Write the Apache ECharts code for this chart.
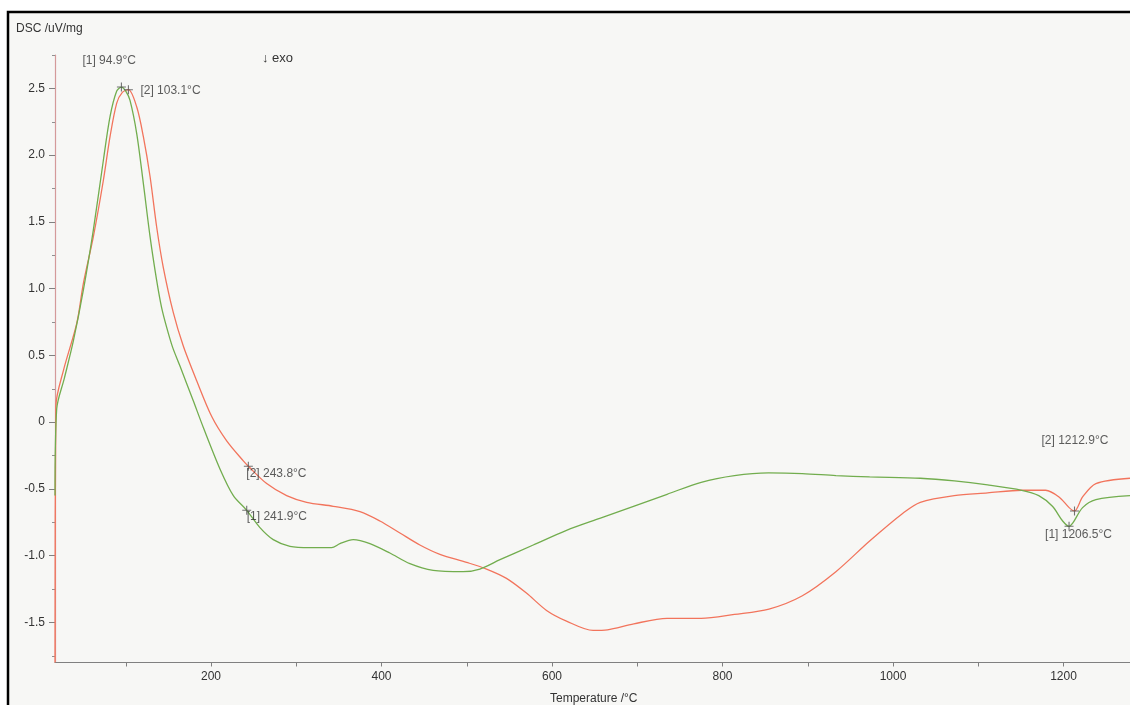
<!DOCTYPE html>
<html>
<head>
<meta charset="utf-8">
<script src="https://cdn.jsdelivr.net/npm/echarts@6/dist/echarts.min.js"></script>
<style>
  html, body { margin: 0; padding: 0; background: #ffffff; }
  #chart { width: 1130px; height: 705px; }
</style>
</head>
<body>
<div id="chart"></div>
<script>
// DSC curves: temperature (°C) and signal (uV/mg) for run [1] (green) and run [2] (red)
const run1Temp = [17, 19, 28, 38.6, 50.3, 62, 73.7, 81.6, 89.4, 94.9, 100, 105, 112.9, 120.6, 128.5, 136.3, 142, 148, 155, 163.6, 179.2, 191, 210.5, 226.2, 241.9, 257.4, 273, 292.6, 316, 341.5, 351.2, 366.8, 386.4, 409.8, 433.3, 460.6, 495.8, 515.4, 539, 578, 617, 656, 695.6, 735, 775, 814, 854, 893.7, 933, 972.6, 1032, 1072, 1111, 1151, 1171, 1187, 1199, 1206.5, 1211, 1222.4, 1238, 1278];
const run1Val = [-0.55, 0.1, 0.33, 0.61, 0.99, 1.44, 1.96, 2.29, 2.48, 2.51, 2.48, 2.41, 2.16, 1.79, 1.39, 1.06, 0.86, 0.71, 0.56, 0.42, 0.16, -0.04, -0.35, -0.55, -0.66, -0.79, -0.88, -0.93, -0.94, -0.94, -0.91, -0.88, -0.91, -0.98, -1.06, -1.11, -1.12, -1.1, -1.03, -0.92, -0.81, -0.72, -0.63, -0.54, -0.45, -0.4, -0.38, -0.385, -0.4, -0.41, -0.42, -0.44, -0.47, -0.51, -0.55, -0.63, -0.74, -0.78, -0.755, -0.64, -0.58, -0.55];

const run2Temp = [17, 18, 27, 42.5, 50.3, 62, 73.7, 81.6, 89.4, 96, 103.1, 112.9, 120.6, 128.5, 136.3, 144, 155.8, 167.5, 183.2, 201, 218.4, 237.9, 243.8, 265.3, 288.7, 312.2, 343.4, 374.7, 398.1, 421.6, 445, 468.5, 499.8, 523.2, 546.6, 570, 593.6, 617, 648.2, 665, 696, 735, 775, 814, 854.5, 893.7, 933, 972.6, 1012, 1032, 1071.8, 1111, 1151, 1179, 1194.7, 1206.6, 1212.9, 1222.4, 1238, 1278];
const run2Val = [-1.8, 0.12, 0.39, 0.74, 1.04, 1.39, 1.81, 2.14, 2.39, 2.47, 2.49, 2.36, 2.14, 1.84, 1.46, 1.16, 0.82, 0.57, 0.31, 0.04, -0.14, -0.29, -0.33, -0.46, -0.55, -0.6, -0.63, -0.67, -0.74, -0.83, -0.92, -0.99, -1.05, -1.1, -1.17, -1.28, -1.41, -1.49, -1.56, -1.555, -1.51, -1.47, -1.47, -1.44, -1.4, -1.3, -1.12, -0.89, -0.68, -0.6, -0.55, -0.53, -0.51, -0.51, -0.56, -0.64, -0.665, -0.56, -0.46, -0.42];

// Evaluated peak / onset points
const mark1Temp = [94.9, 241.9, 1206.5];
const mark1Val = [2.51, -0.66, -0.78];
const mark2Temp = [103.1, 243.8, 1212.9];
const mark2Val = [2.49, -0.33, -0.665];

// Axis ticks and labels
const xLabelValues = [200, 400, 600, 800, 1000, 1200];
const xTickValues = [100, 200, 300, 400, 500, 600, 700, 800, 900, 1000, 1100, 1200];
const yLabelValues = [-1.5, -1.0, -0.5, 0, 0.5, 1.0, 1.5, 2.0, 2.5];
const yMinorValues = [-1.75, -1.25, -0.75, -0.25, 0.25, 0.75, 1.25, 1.75, 2.25, 2.75];

const pairs = (xs, ys) => xs.map((x, i) => [x, ys[i]]);

const textColor = '#333333';
const fontFamily = '"Liberation Sans", Arial, sans-serif';
const plusSymbol = 'path://M4.4,0h1.2v4.4h4.4v1.2h-4.4v4.4h-1.2v-4.4h-4.4v-1.2h4.4z';

// label offsets for each evaluated point (pixels from the marker)
const mark1Offsets = [[-39, -26], [0, 6], [-24, 8]];
const mark2Offsets = [[12, 1], [-2, 7], [-33, -70]];

function markerData(temps, vals, run, offsets) {
  return temps.map((t, i) => ({
    value: [t, vals[i]],
    label: {
      show: true,
      position: 'inside',
      align: 'left',
      verticalAlign: 'middle',
      offset: offsets[i],
      formatter: '[' + run + '] ' + t.toFixed(1) + '°C',
      color: textColor,
      fontSize: 12,
      fontFamily: fontFamily
    }
  }));
}

const chart = echarts.init(document.getElementById('chart'), null, { renderer: 'canvas' });

const option = {
  backgroundColor: '#ffffff',
  animation: false,
  grid: {
    left: 55, right: 0, top: 55, bottom: 42.5,
    containLabel: false,
    outerBoundsMode: 'none'
  },
  xAxis: {
    type: 'value',
    min: 17,
    max: 1278,
    axisLine: { show: true, onZero: false, lineStyle: { color: '#808080', width: 1.2 } },
    axisTick: { show: true, length: 4, customValues: xTickValues, lineStyle: { color: '#808080' } },
    axisLabel: {
      customValues: xLabelValues,
      formatter: v => String(v),
      color: textColor, fontSize: 12, fontFamily: fontFamily, margin: 8
    },
    splitLine: { show: false }
  },
  yAxis: [
    {
      type: 'value',
      min: -1.8,
      max: 2.75,
      axisLine: { show: true, lineStyle: { color: '#d49a9a', width: 1.2 } },
      axisTick: { show: true, length: 6, customValues: yLabelValues, lineStyle: { color: '#808080' } },
      axisLabel: {
        customValues: yLabelValues,
        formatter: v => (v === 0 ? '0' : v.toFixed(1)),
        color: textColor, fontSize: 12, fontFamily: fontFamily, margin: 10
      },
      splitLine: { show: false }
    },
    {
      type: 'value',
      position: 'left',
      min: -1.8,
      max: 2.75,
      axisLine: { show: false },
      axisTick: { show: true, length: 3, customValues: yMinorValues, lineStyle: { color: '#909090' } },
      axisLabel: { show: false },
      splitLine: { show: false }
    }
  ],
  series: [
    {
      name: '[1]',
      type: 'line',
      data: pairs(run1Temp, run1Val),
      showSymbol: false,
      smooth: 0.3,
      lineStyle: { color: '#72ad4e', width: 1.3 },
      z: 3
    },
    {
      name: '[2]',
      type: 'line',
      data: pairs(run2Temp, run2Val),
      showSymbol: false,
      smooth: 0.3,
      lineStyle: { color: '#f2745c', width: 1.3 },
      z: 2
    },
    {
      name: '[1] marks',
      type: 'scatter',
      data: markerData(mark1Temp, mark1Val, 1, mark1Offsets),
      symbol: plusSymbol,
      symbolSize: 9,
      itemStyle: { color: '#505050' },
      z: 5
    },
    {
      name: '[2] marks',
      type: 'scatter',
      data: markerData(mark2Temp, mark2Val, 2, mark2Offsets),
      symbol: plusSymbol,
      symbolSize: 9,
      itemStyle: { color: '#505050' },
      z: 5
    }
  ],
  graphic: [
    {
      type: 'rect',
      z: -10,
      shape: { x: 8, y: 12, width: 1200, height: 800 },
      style: { fill: '#f7f7f5', stroke: '#000000', lineWidth: 2.5 }
    },
    {
      type: 'text', z: 10, left: 16, top: 23,
      style: { text: 'DSC /uV/mg', fill: textColor, font: '12px ' + fontFamily }
    },
    {
      type: 'text', z: 10, left: 262, top: 52,
      style: { text: '↓ exo', fill: textColor, font: '13px ' + fontFamily }
    },
    {
      type: 'text', z: 10, left: 550, top: 693,
      style: { text: 'Temperature /°C', fill: textColor, font: '12px ' + fontFamily }
    }
  ]
};

chart.setOption(option);
</script>
</body>
</html>
